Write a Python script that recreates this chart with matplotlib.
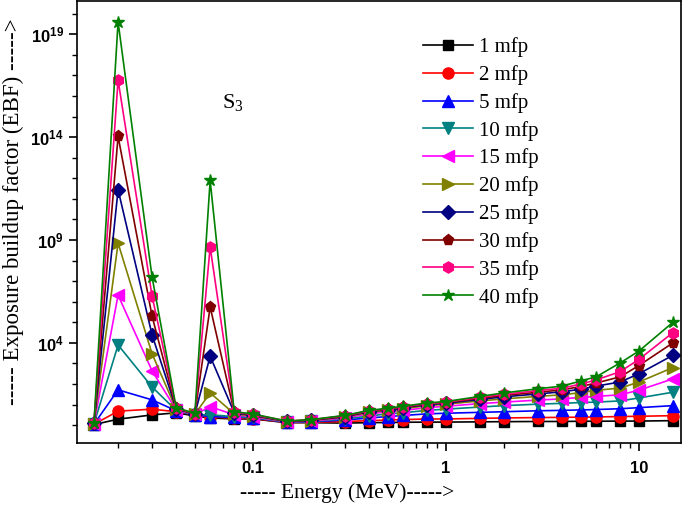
import math
import matplotlib
matplotlib.use('Agg')
import matplotlib.pyplot as plt
from matplotlib.ticker import FixedLocator, FuncFormatter, LogLocator, NullFormatter

plt.rcParams['font.family'] = ['Liberation Serif', 'DejaVu Serif']
plt.rcParams['mathtext.fontset'] = 'custom'
plt.rcParams['mathtext.rm'] = 'Liberation Serif'
plt.rcParams['mathtext.it'] = 'Liberation Serif:italic'
plt.rcParams['mathtext.bf'] = 'Liberation Sans:bold'

# energies (MeV)
energy = [0.015, 0.02, 0.03, 0.04, 0.05, 0.06, 0.08, 0.1, 0.15, 0.2, 0.3, 0.4, 0.5,
          0.6, 0.8, 1, 1.5, 2, 3, 4, 5, 6, 8, 10, 15]

# EBF values
ebf_1 = [1.07, 1.95, 3.16, 3.98, 2.82, 2.24, 2.0, 2.0, 1.32, 1.32, 1.26, 1.32, 1.35,
         1.38, 1.41, 1.41, 1.45, 1.48, 1.51, 1.51, 1.55, 1.55, 1.58, 1.58, 1.66]
ebf_2 = [1.1, 4.8, 6.0, 4.5, 3.2, 2.5, 2.2, 2.1, 1.35, 1.38, 1.5, 1.66, 1.78,
         1.86, 2.0, 2.0, 2.14, 2.24, 2.34, 2.4, 2.45, 2.5, 2.63, 2.7, 2.9]
ebf_5 = [1.12, 52, 17, 5.0, 3.2, 2.6, 2.4, 2.3, 1.38, 1.45, 1.78, 2.24, 2.63,
         2.95, 3.55, 3.8, 4.2, 4.5, 5.0, 5.25, 5.5, 5.75, 6.3, 7.1, 8.9]
ebf_10 = [1.15, 7900, 72, 5.2, 3.2, 3.2, 2.6, 2.4, 1.41, 1.51, 2.0, 2.8, 3.55,
          4.0, 5.25, 6.0, 7.6, 8.9, 10.5, 11.5, 12.6, 13.2, 15.1, 21, 40]
ebf_15 = [1.17, 2.1e6, 440, 5.6, 3.3, 7.9, 3.2, 2.6, 1.45, 1.58, 2.24, 3.55, 4.5,
          5.25, 7.1, 8.3, 11.2, 13.2, 16.6, 19, 22.4, 25, 30, 50, 178]
ebf_20 = [1.2, 7.1e8, 2950, 6.0, 3.4, 37, 3.55, 2.8, 1.48, 1.66, 2.5, 4.2, 5.25,
          6.3, 8.9, 10.5, 15, 19, 25, 30, 38, 50, 63, 126, 630]
ebf_25 = [1.23, 2.8e11, 2.45e4, 6.3, 3.5, 2240, 4.0, 3.0, 1.51, 1.74, 2.6, 4.6, 5.75,
          7.1, 10, 11.7, 17.8, 24, 33, 42, 56, 79, 126, 316, 2500]
ebf_30 = [1.26, 1.1e14, 2.0e5, 6.6, 3.55, 5.6e5, 4.2, 3.2, 1.55, 1.78, 2.75, 4.8, 6.0,
          7.6, 10.7, 12.6, 20, 28, 40, 52, 76, 112, 224, 794, 1.0e4]
ebf_35 = [1.29, 5.9e16, 1.9e6, 6.9, 3.6, 4.6e8, 4.3, 3.3, 1.58, 1.82, 2.9, 5.0, 6.3,
          7.9, 11.2, 13.2, 22.4, 31.6, 48, 63, 100, 158, 400, 1580, 3.16e4]
ebf_40 = [1.32, 4.0e19, 1.6e7, 7.2, 3.7, 7.9e11, 4.5, 3.5, 1.58, 1.86, 3.0, 5.25, 6.6,
          8.3, 12, 14.1, 25, 37, 59, 79, 141, 224, 1070, 4000, 1.0e5]

labels = ['1 mfp', '2 mfp', '5 mfp', '10 mfp', '15 mfp', '20 mfp', '25 mfp', '30 mfp', '35 mfp', '40 mfp']
series = [ebf_1, ebf_2, ebf_5, ebf_10, ebf_15, ebf_20, ebf_25, ebf_30, ebf_35, ebf_40]
colors = ['black', 'red', 'blue', '#008080', 'magenta', '#808000', '#000080', '#800000', '#FF0080', '#008000']
markers = ['s', 'o', '^', 'v', '<', '>', 'D', 'p', 'h', '*']
msizes = [7, 8, 8, 8, 8, 8, 7, 8, 8, 9]

fig = plt.figure(figsize=(6.85, 5.07), dpi=100)
ax = fig.add_axes([0.1124, 0.126, 0.8816, 0.872])

for y, lab, c, m, ms in zip(series, labels, colors, markers, msizes):
    ax.plot(energy, y, color=c, marker=m, markersize=ms, linewidth=1.2, label=lab)

ax.set_xscale('log')
ax.set_yscale('log')
ax.set_xlim(0.01225, 16.5)
ax.set_ylim(0.134, 10**20.62)

ax.yaxis.set_major_locator(FixedLocator([1e4, 1e9, 1e14, 1e19]))
ax.yaxis.set_major_formatter(FuncFormatter(lambda v, p: r'$\mathbf{10^{%d}}$' % round(math.log10(v))))
ax.yaxis.set_minor_locator(FixedLocator([10.0 ** k for k in range(0, 21)]))
ax.yaxis.set_minor_formatter(NullFormatter())

ax.xaxis.set_major_locator(FixedLocator([0.1, 1, 10]))
ax.xaxis.set_major_formatter(FuncFormatter(lambda v, p: {0.1: '0.1', 1: '1', 10: '10'}.get(round(v, 3), '')))
ax.xaxis.set_minor_locator(LogLocator(base=10, subs=range(2, 10)))
ax.xaxis.set_minor_formatter(NullFormatter())

ax.tick_params(which='major', direction='out', length=6, width=1.2, top=False, right=False)
ax.tick_params(axis='x', which='major', pad=7)
ax.tick_params(which='minor', direction='out', length=3.5, width=1.0, top=False, right=False)
for lab in ax.get_xticklabels() + ax.get_yticklabels():
    lab.set_family('Liberation Sans')
    lab.set_fontweight('bold')
    lab.set_fontsize(12)
for s in ax.spines.values():
    s.set_linewidth(1.2)

ax.set_xlabel('----- Energy (MeV)----->', fontsize=15.5)
ax.xaxis.set_label_coords(0.447, -0.09)
ax.set_ylabel('----- Exposure buildup factor (EBF) ----->', fontsize=16.5)
ax.yaxis.set_label_coords(-0.088, 0.523)

ax.text(0.0695, 10**15.7, r'$\mathrm{S}_3$', fontsize=16, va='center')

ax.legend(loc='upper left', bbox_to_anchor=(0.573, 0.918), frameon=False, fontsize=15,
          handlelength=2.4, labelspacing=0.38, handletextpad=0.3, borderaxespad=0, borderpad=0)

fig.savefig('out.png', dpi=100)
